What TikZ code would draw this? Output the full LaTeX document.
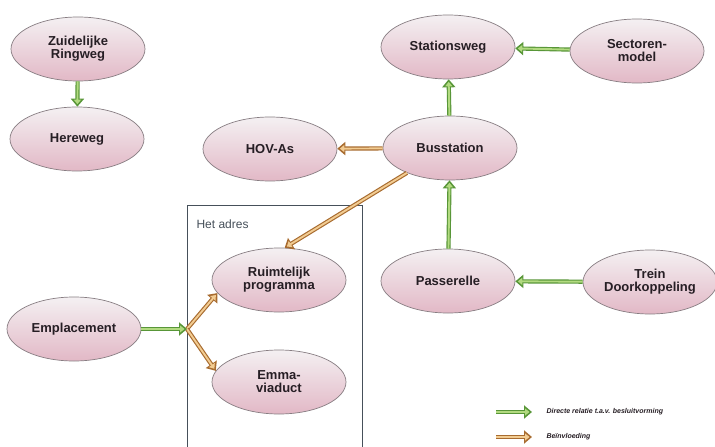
\documentclass[tikz,border=0pt]{standalone}
\usepackage{fontspec}
\setmainfont{Liberation Sans}
\usetikzlibrary{shapes.geometric,arrows.meta}
\definecolor{gdark}{RGB}{88,150,56}
\definecolor{glight}{RGB}{178,218,128}
\definecolor{odark}{RGB}{168,108,48}
\definecolor{olight}{RGB}{242,204,146}
\definecolor{pinkb}{RGB}{226,184,198}
\definecolor{pinkt}{RGB}{244,240,242}
\definecolor{edgec}{RGB}{135,125,130}
\definecolor{txtc}{RGB}{38,30,36}
\definecolor{boxc}{RGB}{70,80,90}
\tikzset{
  topic/.style={ellipse, draw=edgec, line width=0.7pt, top color=pinkt, bottom color=pinkb,
    minimum width=134pt, minimum height=64pt, inner sep=0pt, align=center,
    text=txtc, font=\bfseries\fontsize{13}{13}\selectfont},
  garrow/.style={draw=gdark, line width=4.2pt, -{Triangle[length=8pt,width=13pt]},
    postaction={draw=glight, line width=1.9pt, -{Triangle[length=4.5pt,width=7pt]}, shorten >=2.5pt}},
  oarrow/.style={draw=odark, line width=4.2pt, -{Triangle[length=8pt,width=13pt]},
    postaction={draw=olight, line width=1.9pt, -{Triangle[length=4.5pt,width=7pt]}, shorten >=2.5pt}},
  legtext/.style={anchor=west, text=txtc, font=\bfseries\itshape\fontsize{7}{8}\selectfont},
}
\begin{document}
\begin{tikzpicture}[x=1pt,y=-1pt]
\useasboundingbox (0,0) rectangle (715,447);
\fill[white] (0,0) rectangle (715,447);
% Het adres box
\draw[boxc, line width=0.8pt] (187,447) -- (187,205) -- (362,205) -- (362,447);
\node[anchor=west, text=boxc, font=\fontsize{12}{13}\selectfont] (adres) at (193,224) {Het adres};
% nodes
\node[topic] (zr) at (78,49) {Zuidelijke\\Ringweg};
\node[topic] (hw) at (77,139) {Hereweg};
\node[topic] (sw) at (448,47) {Stationsweg};
\node[topic] (sm) at (637,51) {Sectoren-\\model};
\node[topic] (bs) at (450,148) {Busstation};
\node[topic] (hov) at (270,149) {HOV-As};
\node[topic] (rp) at (279,280) {Ruimtelijk\\programma};
\node[topic] (ev) at (279,382) {Emma-\\viaduct};
\node[topic] (em) at (74,329) {Emplacement};
\node[topic] (ps) at (448,281) {Passerelle};
\node[topic] (td) at (650,282) {Trein\\Doorkoppeling};
\coordinate (j) at (187,329);
% connectors
\draw[garrow] (zr) -- (hw);
\draw[garrow] (sm) -- (sw);
\draw[garrow] (bs) -- (sw);
\draw[garrow] (ps) -- (bs);
\draw[garrow] (td) -- (ps);
\draw[oarrow] (bs) -- (hov);
\draw[oarrow] (bs.210) -- (rp.80);
\draw[oarrow] (j) -- (rp.192);
\draw[oarrow] (j) -- (ev.170);
\draw[garrow] (em) -- (j);
% legend
\coordinate (lg1) at (496,412);
\coordinate (lg2) at (532,412);
\coordinate (lo1) at (496,437);
\coordinate (lo2) at (532,437);
\draw[garrow] (lg1) -- (lg2);
\draw[oarrow] (lo1) -- (lo2);
\node[legtext] (lt1) at (543,412) {Directe relatie t.a.v. besluitvorming};
\node[legtext] (lt2) at (543,437) {Beïnvloeding};
\end{tikzpicture}
\end{document}
